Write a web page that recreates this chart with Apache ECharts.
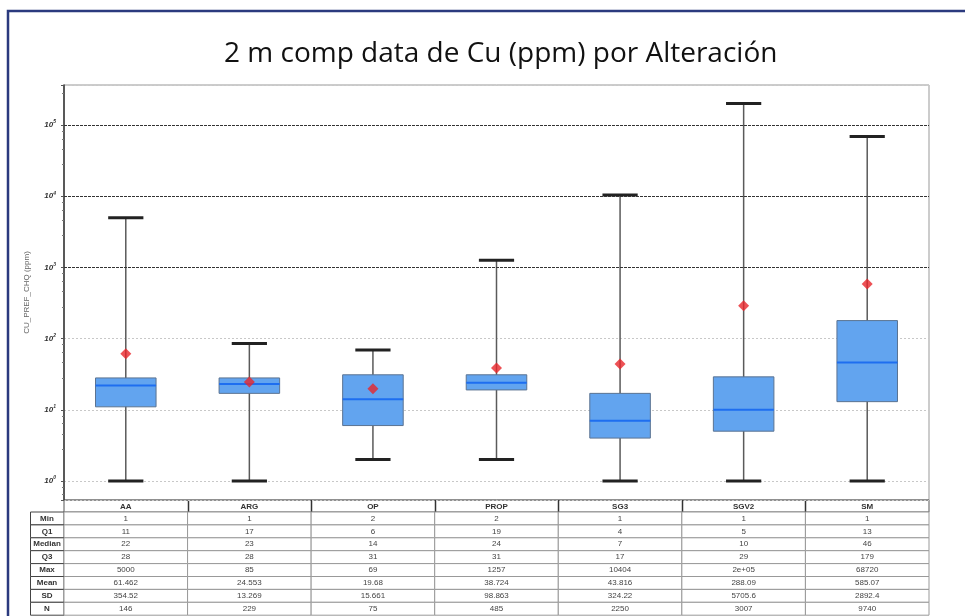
<!DOCTYPE html>
<html>
<head>
<meta charset="utf-8">
<script src="https://cdn.jsdelivr.net/npm/echarts@6/dist/echarts.min.js"></script>
<style>html,body{margin:0;padding:0;background:#fff;}#c{width:965px;height:616px;}</style>
</head>
<body>
<div id="c"></div>
<script>
const categories = ['AA','ARG','OP','PROP','SG3','SGV2','SM'];
const minVals    = [1, 1, 2, 2, 1, 1, 1];
const q1Vals     = [11, 17, 6, 19, 4, 5, 13];
const medianVals = [22, 23, 14, 24, 7, 10, 46];
const q3Vals     = [28, 28, 31, 31, 17, 29, 179];
const maxVals    = [5000, 85, 69, 1257, 10404, 200000, 68720];
const meanVals   = [61.462, 24.553, 19.68, 38.724, 43.816, 288.09, 585.07];
const sdVals     = [354.52, 13.269, 15.661, 98.863, 324.22, 5705.6, 2892.4];
const nVals      = [146, 229, 75, 485, 2250, 3007, 9740];
const rowLabels  = ['Min','Q1','Median','Q3','Max','Mean','SD','N'];
const darkGridValues = [1000, 10000, 100000];

const W = 965, H = 616;
const GL = 64, GT = 85, GR = 929, GB = 500;
const colW = (GR - GL) / categories.length;

function fmt(v) {
  if (v >= 100000) {
    const e = Math.floor(Math.log10(v));
    const m = +(v / Math.pow(10, e)).toPrecision(3);
    return m + 'e+' + String(e).padStart(2, '0');
  }
  return String(v);
}

const rows = [minVals, q1Vals, medianVals, q3Vals, maxVals, meanVals, sdVals, nVals];
const graphics = [];
// outer frame
graphics.push({type:'rect', shape:{x:8, y:11, width:1000, height:700}, style:{fill:null, stroke:'#2b3a7e', lineWidth:2.5}, silent:true});
// header row
graphics.push({type:'rect', shape:{x:GL, y:GB, width:GR-GL, height:12}, style:{fill:null, stroke:'#555', lineWidth:1}, silent:true});
for (let i = 1; i < categories.length; i++) {
  const x = Math.round(GL + i * colW) + 0.5;
  graphics.push({type:'line', shape:{x1:x, y1:GB, x2:x, y2:GB+12}, style:{stroke:'#333', lineWidth:1.5}, silent:true});
}
const rowTop = 512, rowH = 12.9;
rows.forEach((arr, r) => {
  const y = rowTop + r * rowH;
  graphics.push({type:'rect', shape:{x:30.5, y:y, width:GL-30.5, height:rowH}, style:{fill:'#fff', stroke:'#444', lineWidth:1}, silent:true});
  graphics.push({type:'text', x:(30+GL)/2, y:y+rowH/2, style:{text:rowLabels[r], fontSize:8, fontWeight:'bold', fontFamily:'Liberation Sans, Arial', fill:'#333', align:'center', verticalAlign:'middle'}, silent:true});
  arr.forEach((v, i) => {
    const x = GL + i * colW;
    graphics.push({type:'rect', shape:{x:x, y:y, width:colW, height:rowH}, style:{fill:'#fff', stroke:'#999', lineWidth:1}, silent:true});
    graphics.push({type:'text', x:x+colW/2, y:y+rowH/2, style:{text:fmt(v), fontSize:8, fontFamily:'Liberation Sans, Arial', fill:'#444', align:'center', verticalAlign:'middle'}, silent:true});
  });
});

const boxData = categories.map((c, i) => [i, minVals[i], q1Vals[i], medianVals[i], q3Vals[i], maxVals[i]]);

const chart = echarts.init(document.getElementById('c'), null, {renderer:'canvas'});
chart.setOption({
  animation: false,
  backgroundColor: '#fff',
  title: {
    text: '2 m comp data de Cu (ppm) por Alteración',
    left: 219, top: 35,
    textStyle: {fontSize: 28, fontWeight: 'normal', color: '#111', fontFamily: 'Open Sans'}
  },
  grid: {left: GL, top: GT, right: W - GR, bottom: H - GB, show: true, borderColor: '#999', borderWidth: 1, backgroundColor: '#fff'},
  xAxis: {
    type: 'category', data: categories,
    axisLine: {show: false}, axisTick: {show: false},
    axisLabel: {fontSize: 8, fontWeight: 'bold', color: '#333', margin: 3, fontFamily: 'Liberation Sans, Arial'},
    splitLine: {show: false}
  },
  yAxis: {
    type: 'log', logBase: 10, min: 0.54, max: 365000,
    name: 'CU_PREF_CHQ (ppm)', nameLocation: 'middle', nameGap: 33,
    nameTextStyle: {fontSize: 8, color: '#666', fontFamily: 'Liberation Sans, Arial'},
    axisLine: {show: true, lineStyle: {color: '#333', width: 1.5}},
    axisTick: {show: true, length: 3, lineStyle: {color: '#555'}},
    minorTick: {show: true, splitNumber: 5, length: 2, lineStyle: {color: '#777'}},
    axisLabel: {
      showMinLabel: false, showMaxLabel: false, margin: 8,
      formatter: function (v) {
        const e = Math.round(Math.log10(v));
        if (Math.abs(Math.log10(v) - e) > 1e-6) return '';
        return '{b|10}{e|' + e + '}';
      },
      rich: {
        b: {fontSize: 8, fontStyle: 'italic', fontWeight: 'bold', color: '#333', fontFamily: 'Liberation Sans, Arial'},
        e: {fontSize: 5, fontStyle: 'italic', fontWeight: 'bold', color: '#333', verticalAlign: 'top', padding: [0,0,6,0]}
      }
    },
    splitLine: {show: true, lineStyle: {color: '#c8c8c8', type: [2, 2], width: 1}}
  },
  graphic: graphics,
  series: [
    {
      type: 'custom',
      data: boxData,
      encode: {x: 0, y: [1, 2, 3, 4, 5]},
      z: 3,
      renderItem: function (params, api) {
        const i = api.value(0);
        const pMin = api.coord([i, api.value(1)]);
        const pQ1 = api.coord([i, api.value(2)]);
        const pMed = api.coord([i, api.value(3)]);
        const pQ3 = api.coord([i, api.value(4)]);
        const pMax = api.coord([i, api.value(5)]);
        const band = api.size([1, 1])[0];
        const bw = band * 0.49, cw = band * 0.285;
        const x = pMin[0];
        return {
          type: 'group',
          children: [
            {type: 'line', shape: {x1: x, y1: pMin[1], x2: x, y2: pMax[1]}, style: {stroke: '#5a5a5a', lineWidth: 1.5}},
            {type: 'rect', shape: {x: x - bw / 2, y: pQ3[1], width: bw, height: pQ1[1] - pQ3[1]}, style: {fill: '#62a4ef', stroke: '#5b7391', lineWidth: 1}},
            {type: 'line', shape: {x1: x - bw / 2, y1: pMed[1], x2: x + bw / 2, y2: pMed[1]}, style: {stroke: '#1e6ef0', lineWidth: 2}},
            {type: 'line', shape: {x1: x - cw / 2, y1: pMin[1], x2: x + cw / 2, y2: pMin[1]}, style: {stroke: '#222', lineWidth: 3}},
            {type: 'line', shape: {x1: x - cw / 2, y1: pMax[1], x2: x + cw / 2, y2: pMax[1]}, style: {stroke: '#222', lineWidth: 3}}
          ]
        };
      }
    },
    {
      type: 'scatter',
      data: meanVals,
      symbol: 'diamond',
      symbolSize: [11, 11],
      itemStyle: {color: '#e8262a'},
      z: 5,
      markLine: {
        silent: true, symbol: 'none', label: {show: false},
        lineStyle: {color: '#333', type: [3, 1], width: 1},
        data: darkGridValues.map(v => ({yAxis: v}))
      }
    }
  ]
});
</script>
</body>
</html>
